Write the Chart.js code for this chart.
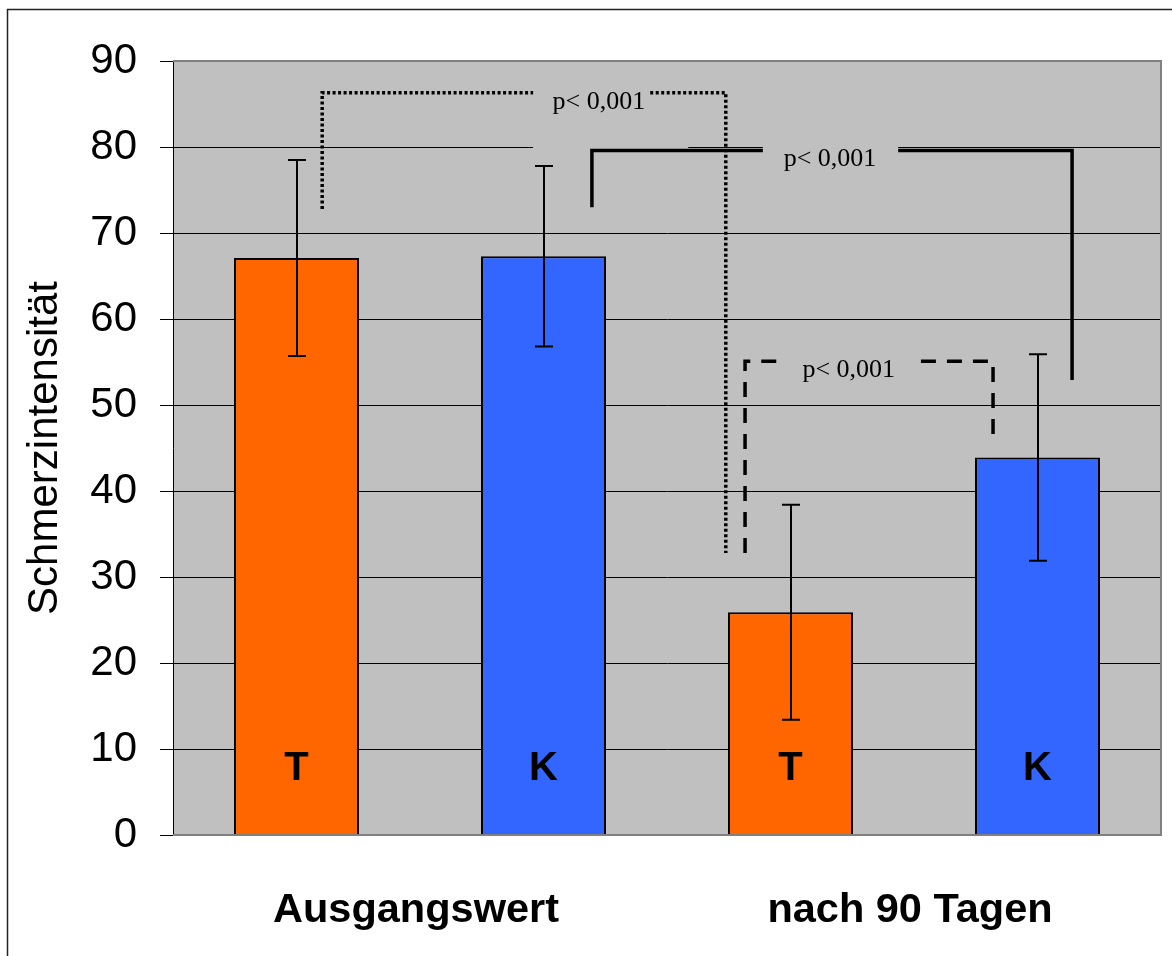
<!DOCTYPE html>
<html>
<head>
<meta charset="utf-8">
<script src="https://cdn.jsdelivr.net/npm/chart.js@4/dist/chart.umd.min.js"></script>
<style>
  html, body { margin: 0; padding: 0; background: #ffffff; }
  #wrap { width: 1172px; height: 956px; position: relative; }
</style>
</head>
<body>
<div id="wrap"><canvas id="c" width="1172" height="956"></canvas></div>
<script>
// ---- data ----
const categories = ["Ausgangswert", "nach 90 Tagen"];
const seriesNames = ["T", "K"];
const valuesT = [67.1, 25.9];
const valuesK = [67.3, 43.9];
const sdT = [11.4, 12.5];
const sdK = [10.5, 12.0];
const yMin = 0, yMax = 90, yStep = 10;
const yTitle = "Schmerzintensität";
const pText = "p< 0,001";

// significance brackets, x in category units, y in data units
const brackets = [
  { dash: [3, 2.5], x1: -0.198, y1: 72.8, x2: 0.619, y2: 32.8, top: 86.3, gap: [0.229, 0.466],
    box: [0.229, 0.543, 87.5, 79.8], tx: 0.362, ty: 85.2 },
  { dash: [], x1: 0.348, y1: 73.0, x2: 1.320, y2: 52.9, top: 79.6, gap: [0.694, 0.968],
    box: [0.694, 0.968, 81.0, 75.0], tx: 0.830, ty: 78.6 },
  { dash: [15, 11], x1: 0.658, y1: 32.8, x2: 1.160, y2: 46.2, top: 55.1, gap: [0.739, 1.014],
    box: [0.739, 1.014, 57.0, 51.5], tx: 0.868, ty: 54.0 }
];

const PLOT_BG = '#c0c0c0';

function xAt(chart, v) {
  const xs = chart.scales.x;
  const p0 = xs.getPixelForValue(0), p1 = xs.getPixelForValue(1);
  return p0 + v * (p1 - p0);
}

const decor = {
  id: 'decor',
  beforeDraw(chart) {
    const ctx = chart.ctx, a = chart.chartArea;
    ctx.save();
    ctx.fillStyle = '#ffffff';
    ctx.fillRect(0, 0, chart.width, chart.height);
    ctx.strokeStyle = '#222';
    ctx.lineWidth = 1.5;
    ctx.strokeRect(7.5, 9.5, chart.width + 50, chart.height + 50);
    ctx.fillStyle = PLOT_BG;
    ctx.fillRect(a.left, a.top, a.right - a.left, a.bottom - a.top);
    ctx.restore();
  },
  beforeDatasetsDraw(chart) {
    const ctx = chart.ctx, ys = chart.scales.y;
    ctx.save();
    ctx.fillStyle = PLOT_BG;
    brackets.forEach(b => {
      const xa = xAt(chart, b.box[0]), xb = xAt(chart, b.box[1]);
      const ya = ys.getPixelForValue(b.box[2]), yb = ys.getPixelForValue(b.box[3]);
      ctx.fillRect(xa, ya, xb - xa, yb - ya);
    });
    ctx.restore();
  },
  afterDatasetsDraw(chart) {
    const ctx = chart.ctx, a = chart.chartArea, ys = chart.scales.y;
    ctx.save();
    // plot frame (top, right, bottom)
    ctx.strokeStyle = '#808080';
    ctx.lineWidth = 2;
    ctx.beginPath();
    ctx.moveTo(a.left, a.top);
    ctx.lineTo(a.right, a.top);
    ctx.lineTo(a.right, a.bottom);
    ctx.lineTo(a.left, a.bottom);
    ctx.stroke();

    // error bars
    const sds = [sdT, sdK];
    chart.data.datasets.forEach((ds, di) => {
      const meta = chart.getDatasetMeta(di);
      meta.data.forEach((bar, i) => {
        const v = ds.data[i], sd = sds[di][i];
        const x = Math.round(bar.x);
        const yt = ys.getPixelForValue(v + sd), yb = ys.getPixelForValue(v - sd);
        ctx.strokeStyle = '#000';
        ctx.lineWidth = 2;
        ctx.beginPath();
        ctx.moveTo(x, yt); ctx.lineTo(x, yb);
        ctx.moveTo(x - 9, yt); ctx.lineTo(x + 9, yt);
        ctx.moveTo(x - 9, yb); ctx.lineTo(x + 9, yb);
        ctx.stroke();
        // series letter
        ctx.fillStyle = '#000';
        ctx.font = 'bold 40px "Liberation Sans", Arial, sans-serif';
        ctx.textAlign = 'center';
        ctx.textBaseline = 'middle';
        ctx.fillText(seriesNames[di], bar.x, ys.getPixelForValue(7.7));
      });
    });

    // brackets
    brackets.forEach(b => {
      const X1 = xAt(chart, b.x1), X2 = xAt(chart, b.x2);
      const G1 = xAt(chart, b.gap[0]), G2 = xAt(chart, b.gap[1]);
      const Y1 = ys.getPixelForValue(b.y1), Y2 = ys.getPixelForValue(b.y2), YT = ys.getPixelForValue(b.top);
      ctx.strokeStyle = '#000';
      ctx.lineWidth = 3.5;
      ctx.lineCap = 'butt';
      ctx.lineJoin = 'miter';
      ctx.setLineDash(b.dash);
      ctx.beginPath();
      ctx.moveTo(X1, Y1); ctx.lineTo(X1, YT); ctx.lineTo(G1, YT);
      ctx.stroke();
      ctx.beginPath();
      ctx.moveTo(G2, YT); ctx.lineTo(X2, YT); ctx.lineTo(X2, Y2);
      ctx.stroke();
      ctx.setLineDash([]);
      ctx.fillStyle = '#000';
      ctx.font = '26px "Liberation Serif", "Times New Roman", serif';
      ctx.textAlign = 'center';
      ctx.textBaseline = 'middle';
      ctx.fillText(pText, xAt(chart, b.tx), ys.getPixelForValue(b.ty));
    });
    ctx.restore();
  }
};

new Chart(document.getElementById('c'), {
  type: 'bar',
  data: {
    labels: categories,
    datasets: [
      { label: seriesNames[0], data: valuesT, backgroundColor: '#ff6600', borderColor: '#000', borderWidth: 2,
        categoryPercentage: 1.0, barPercentage: 0.506 },
      { label: seriesNames[1], data: valuesK, backgroundColor: '#3366ff', borderColor: '#000', borderWidth: 2,
        categoryPercentage: 1.0, barPercentage: 0.506 }
    ]
  },
  options: {
    responsive: false,
    animation: false,
    devicePixelRatio: 1,
    layout: { padding: { left: 0, top: 61, right: 11, bottom: 0 } },
    plugins: { legend: { display: false }, tooltip: { enabled: false }, title: { display: false } },
    scales: {
      x: {
        grid: { display: false, drawTicks: false },
        border: { display: false },
        ticks: { color: '#000', padding: 51, labelOffset: -4,
                 font: { family: '"Liberation Sans", Arial, sans-serif', size: 41.5, weight: 'bold' } },
        afterFit(s) { s.height = 121; }
      },
      y: {
        min: yMin, max: yMax,
        ticks: { stepSize: yStep, color: '#000', padding: 23, font: { family: '"Liberation Sans", Arial, sans-serif', size: 42 } },
        grid: { color: '#000', lineWidth: 1, tickLength: 13, drawTicks: true },
        border: { display: true, color: '#000', width: 1 },
        title: { display: true, text: yTitle, color: '#000', padding: { top: 20, bottom: 0 },
                 font: { family: '"Liberation Sans", Arial, sans-serif', size: 42 } },
        afterFit(s) { s.width = 173; }
      }
    }
  },
  plugins: [decor]
});
</script>
</body>
</html>
